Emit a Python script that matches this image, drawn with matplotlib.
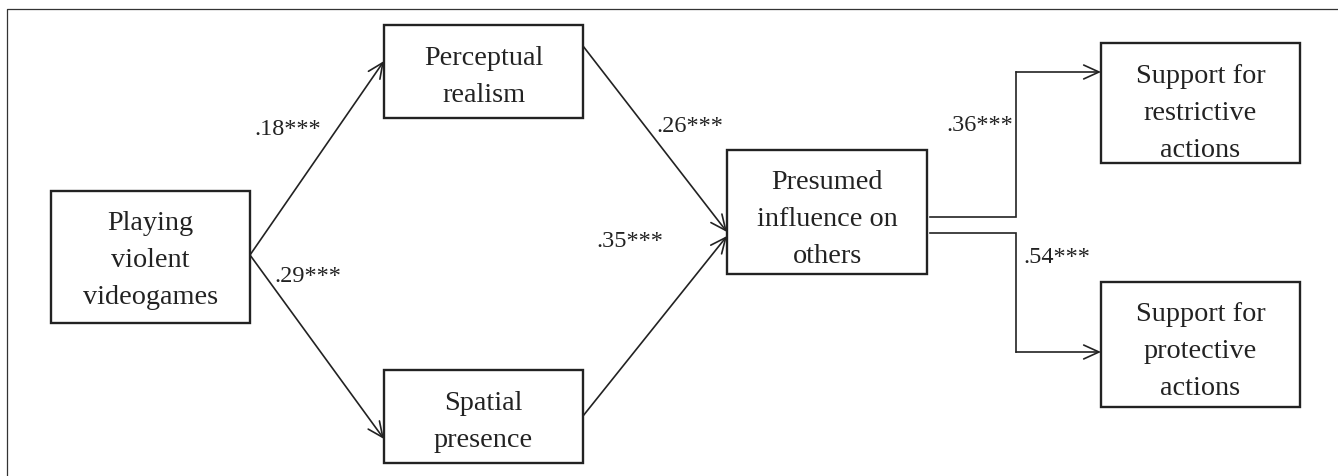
import matplotlib.pyplot as plt

# path model: nodes and standardized coefficients
nodes = [["Playing", "violent", "videogames"], ["Perceptual", "realism"],
         ["Spatial", "presence"], ["Presumed", "influence on", "others"],
         ["Support for", "restrictive", "actions"],
         ["Support for", "protective", "actions"]]
edges = [(0, 1), (0, 2), (1, 3), (2, 3), (3, 4), (3, 5)]
coefs = [".18***", ".29***", ".26***", ".35***", ".36***", ".54***"]

# layout in pixels (x0, y0, x1, y1), y grows downward
boxes = [(51, 192, 250, 324), (384, 26, 583, 119), (384, 371, 583, 464),
         (727, 151, 927, 275), (1101, 44, 1300, 164), (1101, 283, 1300, 408)]
first_baseline = [230, 65, 410, 189, 83, 321]
line_step = 37
paths = [[(250, 256), (384, 62)],
         [(250, 256), (384, 440)],
         [(583, 47), (727, 233)],
         [(583, 417), (727, 237)],
         [(930, 218), (1016, 218), (1016, 73), (1101, 73)],
         [(930, 234), (1016, 234), (1016, 353), (1101, 353)]]
label_pos = [(288, 135), (308, 282), (690, 132), (630, 247), (980, 131), (1057, 263)]

ink = "#222222"
FONT = "Liberation Serif"

fig = plt.figure(figsize=(13.38, 4.77), dpi=100)
ax = fig.add_axes([0, 0, 1, 1])
ax.set_xlim(0, 1338)
ax.set_ylim(477, 0)
ax.axis("off")

# outer frame (top and left only)
ax.plot([7, 7, 1338], [477, 9.5, 9.5], color="#333333", lw=0.9, solid_capstyle="butt")

for (x0, y0, x1, y1), lines, yb in zip(boxes, nodes, first_baseline):
    ax.add_patch(plt.Rectangle((x0, y0), x1 - x0, y1 - y0, fill=False,
                               ec=ink, lw=1.7))
    for i, ln in enumerate(lines):
        ax.text((x0 + x1) / 2, yb + i * line_step, ln, ha="center", va="baseline",
                family=FONT, fontsize=20.3, color=ink)

for pts in paths:
    xs = [p[0] for p in pts]
    ys = [p[1] for p in pts]
    if len(pts) > 2:
        ax.plot(xs[:-1], ys[:-1], color=ink, lw=1.2, solid_joinstyle="miter")
    ax.annotate("", xy=pts[-1], xytext=pts[-2],
                arrowprops=dict(arrowstyle="->,head_length=1.1,head_width=0.5",
                                color=ink, lw=1.2, shrinkA=0, shrinkB=0,
                                mutation_scale=10))

for (x, y), c in zip(label_pos, coefs):
    ax.text(x, y, c, ha="center", va="baseline", family=FONT, fontsize=17.5, color=ink)

fig.savefig("out.png", dpi=100)
